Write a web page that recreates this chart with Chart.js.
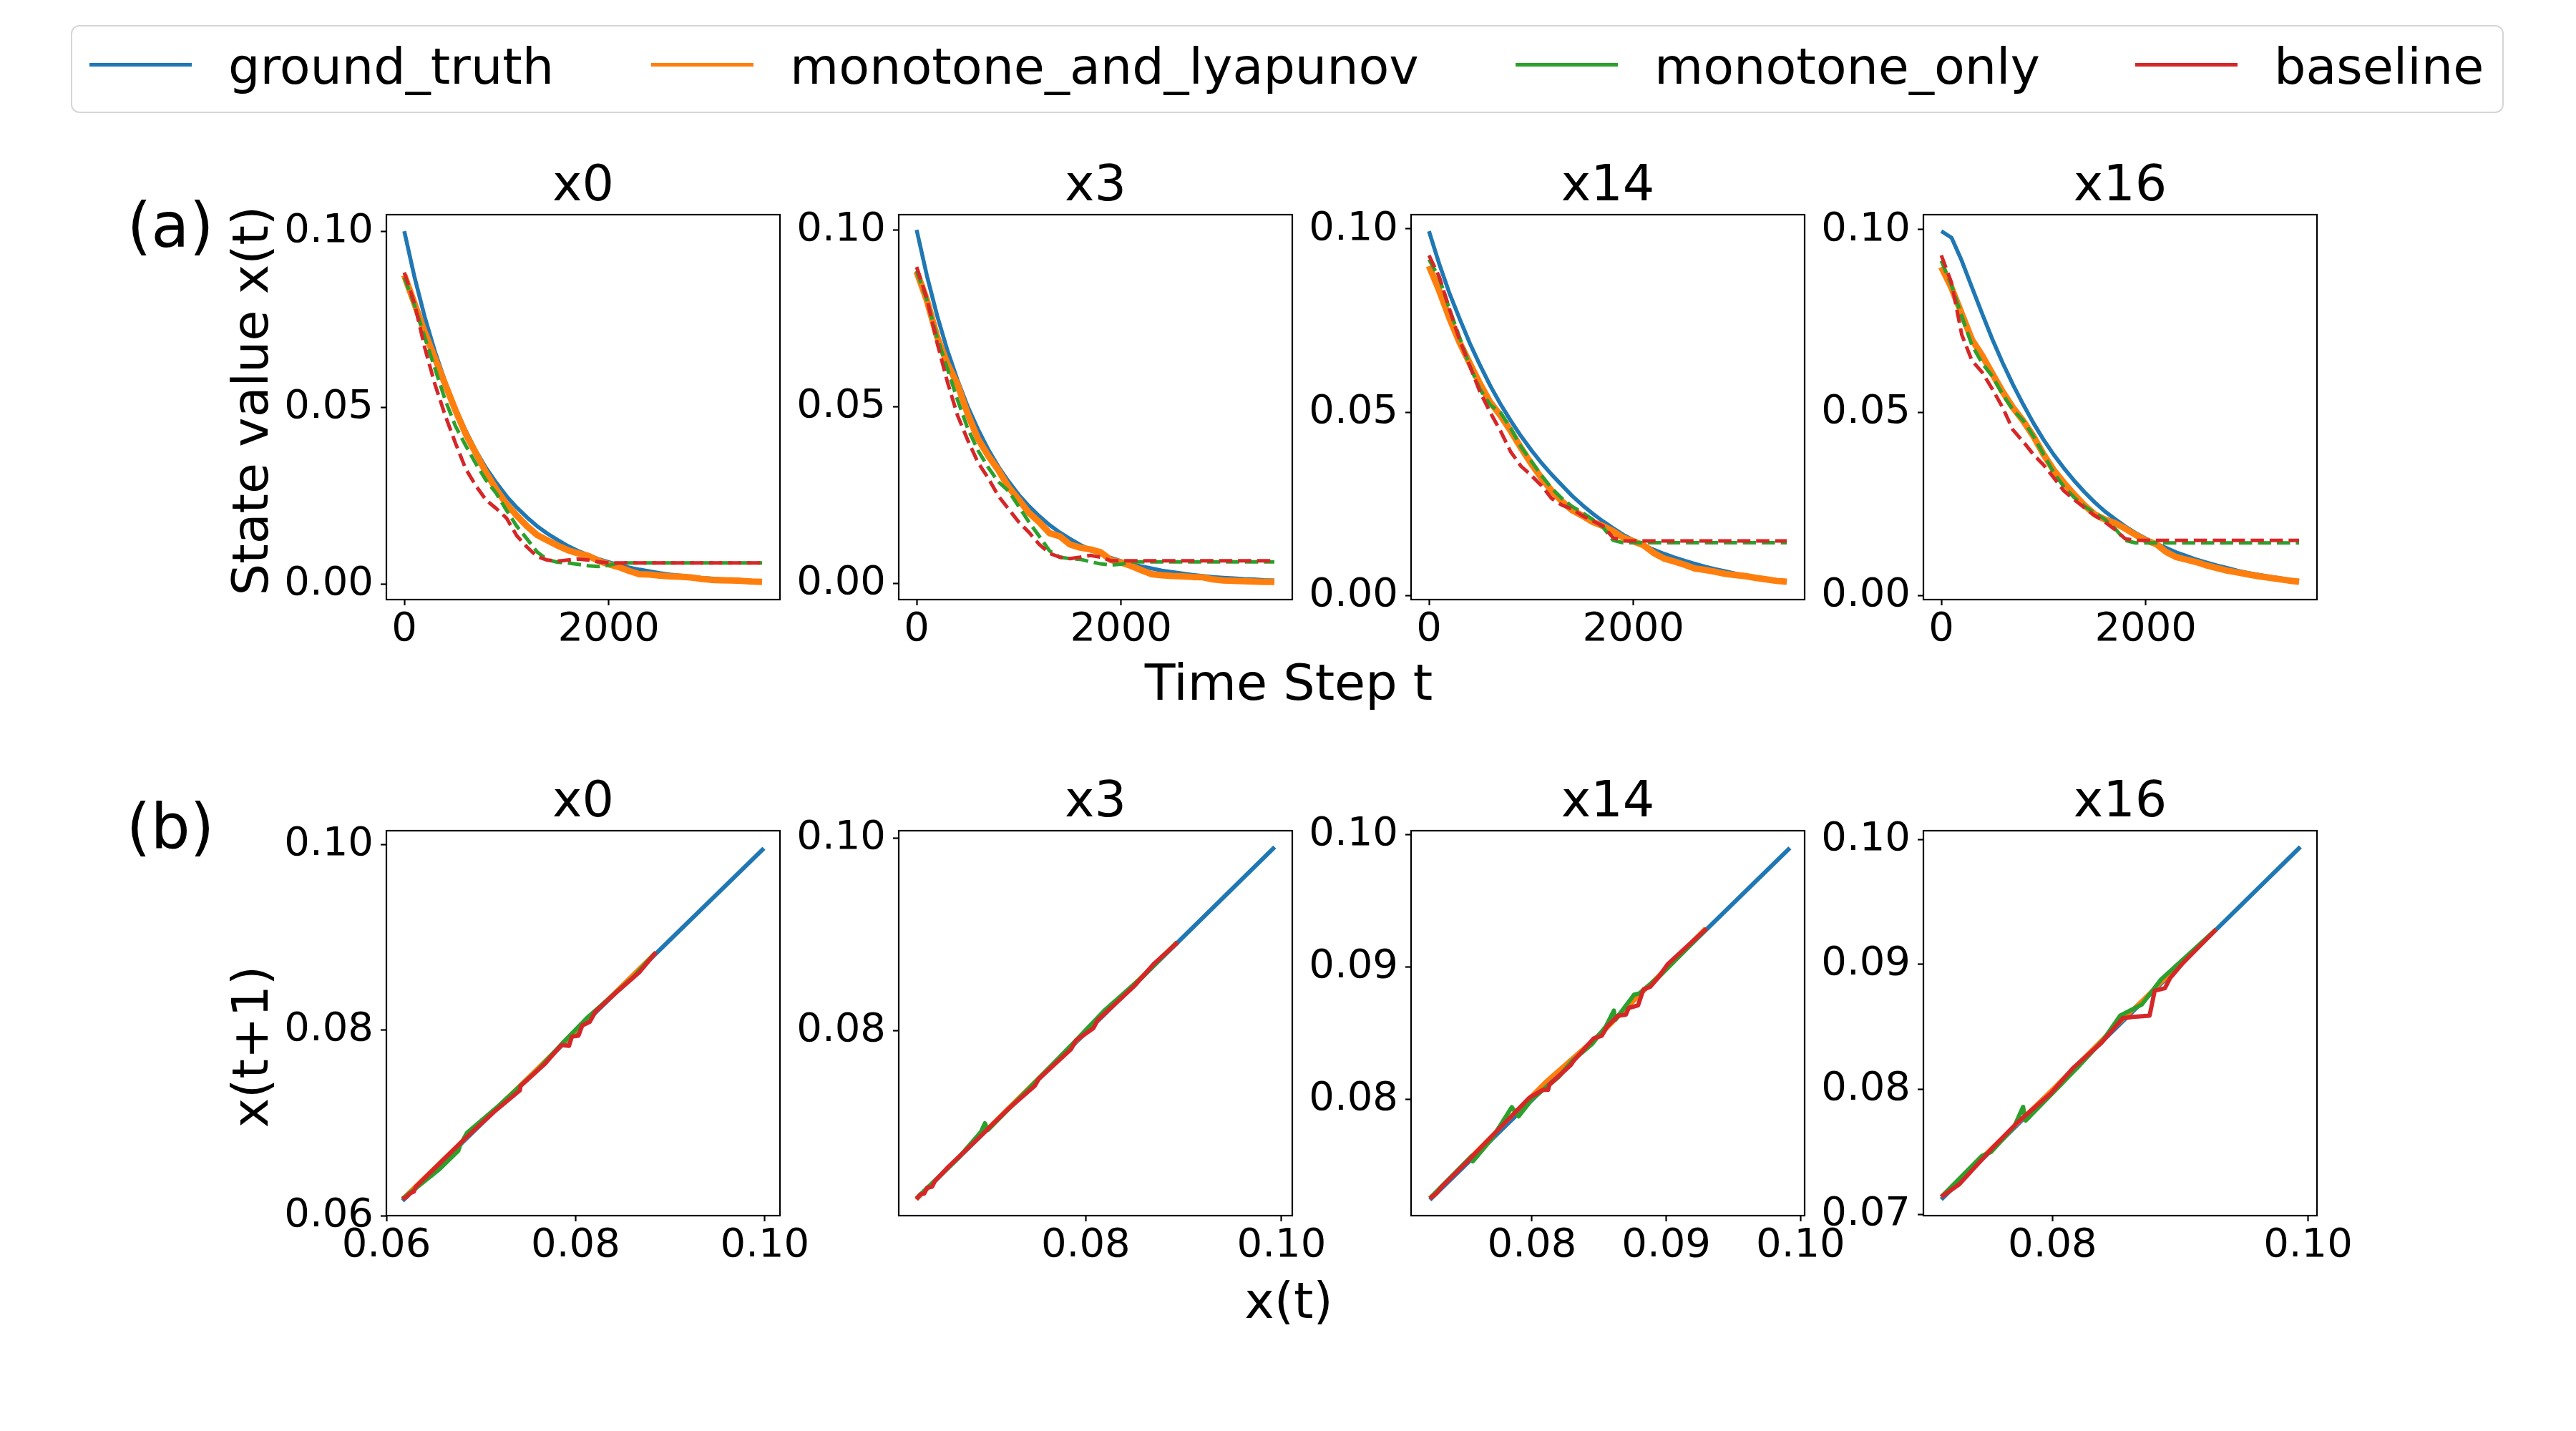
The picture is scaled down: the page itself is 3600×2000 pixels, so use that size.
<!DOCTYPE html>
<html>
<head>
<meta charset="utf-8">
<title>State trajectories and one-step maps</title>
<script src="https://cdn.jsdelivr.net/npm/chart.js@4.4.1/dist/chart.umd.min.js"></script>
<style>
  body { margin: 0; background: #fff; }
  #figure { position: relative; width: 3600px; height: 2000px; overflow: hidden;
            font-family: 'DejaVu Sans', sans-serif; color: #000; }
  #figure canvas { position: absolute; }
  .label { position: absolute; white-space: nowrap; line-height: 1; transform: translate(-50%, -50%); }
  .label.rotated { transform: translate(-50%, -50%) rotate(-90deg); }
  #legendBox { position: absolute; left: 99px; top: 35px; width: 3400px; height: 123px;
               box-sizing: border-box; border: 2.5px solid #d6d6d6; border-radius: 12px; }
  .handle { position: absolute; top: 88px; width: 143px; height: 5px; }
  .entry { position: absolute; top: 93px; font-size: 70px; line-height: 1; white-space: nowrap;
           transform: translateY(-50%); }
</style>
</head>
<body>
<div id="figure">
  <div id="legendBox"></div>
  <div class="label" style="left:238px; top:315px; font-size:87px">(a)</div>
  <div class="label" style="left:238px; top:1155px; font-size:87px">(b)</div>
  <div class="label rotated" style="left:350px; top:560px; font-size:70px">State value x(t)</div>
  <div class="label rotated" style="left:350px; top:1463px; font-size:70px">x(t+1)</div>
  <div class="label" style="left:1801px; top:954px; font-size:70px">Time Step t</div>
  <div class="label" style="left:1801px; top:1818px; font-size:70px">x(t)</div>
</div>
<script>
// series shared by every panel
const seriesNames = ['ground_truth', 'monotone_and_lyapunov', 'monotone_only', 'baseline'];
const seriesColors = ['#1f77b4', '#ff7f0e', '#2ca02c', '#d62728'];
const panelNames = ['x0', 'x3', 'x14', 'x16'];

// (a) state value over time, sampled every 100 steps
const timeSteps = [0, 100, 200, 300, 400, 500, 600, 700, 800, 900, 1000, 1100, 1200, 1300, 1400, 1500, 1600, 1700,
  1800, 1900, 2000, 2100, 2200, 2300, 2400, 2500, 2600, 2700, 2800, 2900, 3000, 3100, 3200, 3300, 3400, 3500];

const truthX0 = [0.1000, 0.0870, 0.0757, 0.0659, 0.0574, 0.0499, 0.0435, 0.0378, 0.0329, 0.0287, 0.0249, 0.0217,
  0.0189, 0.0164, 0.0143, 0.0125, 0.0108, 0.0094, 0.0082, 0.0071, 0.0062, 0.0054, 0.0047, 0.0041, 0.0036, 0.0031,
  0.0027, 0.0024, 0.0021, 0.0018, 0.0016, 0.0014, 0.0012, 0.0010, 0.0009, 0.0008];
const lyapX0 = [0.0875, 0.0795, 0.0714, 0.0640, 0.0566, 0.0493, 0.0426, 0.0371, 0.0316, 0.0268, 0.0227, 0.0194,
  0.0164, 0.0139, 0.0124, 0.0109, 0.0096, 0.0087, 0.0080, 0.0066, 0.0056, 0.0048, 0.0037, 0.0028, 0.0027, 0.0024,
  0.0022, 0.0021, 0.0019, 0.0015, 0.0012, 0.0011, 0.0010, 0.0009, 0.0007, 0.0006];
const monoX0 = [0.0869, 0.0791, 0.0699, 0.0611, 0.0522, 0.0448, 0.0393, 0.0341, 0.0294, 0.0257, 0.0209, 0.0164,
  0.0128, 0.0091, 0.0069, 0.0062, 0.0060, 0.0056, 0.0052, 0.0050, 0.0053, 0.0060, 0.0060, 0.0060, 0.0060, 0.0060,
  0.0060, 0.0060, 0.0060, 0.0060, 0.0060, 0.0060, 0.0060, 0.0060, 0.0060, 0.0060];
const baseX0 = [0.0883, 0.0795, 0.0670, 0.0566, 0.0478, 0.0400, 0.0327, 0.0279, 0.0238, 0.0214, 0.0187, 0.0137,
  0.0105, 0.0078, 0.0068, 0.0065, 0.0068, 0.0071, 0.0068, 0.0063, 0.0060, 0.0060, 0.0060, 0.0060, 0.0060, 0.0060,
  0.0060, 0.0060, 0.0060, 0.0060, 0.0060, 0.0060, 0.0060, 0.0060, 0.0060, 0.0060];

const truthX3 = [0.1000, 0.0871, 0.0758, 0.0660, 0.0575, 0.0500, 0.0436, 0.0379, 0.0330, 0.0288, 0.0250, 0.0218,
  0.0190, 0.0165, 0.0144, 0.0126, 0.0109, 0.0095, 0.0083, 0.0072, 0.0063, 0.0055, 0.0048, 0.0042, 0.0036, 0.0032,
  0.0028, 0.0024, 0.0021, 0.0018, 0.0016, 0.0014, 0.0012, 0.0011, 0.0009, 0.0008];
const lyapX3 = [0.0882, 0.0801, 0.0698, 0.0622, 0.0563, 0.0479, 0.0409, 0.0361, 0.0320, 0.0272, 0.0236, 0.0199,
  0.0173, 0.0142, 0.0133, 0.0110, 0.0101, 0.0096, 0.0088, 0.0066, 0.0059, 0.0049, 0.0037, 0.0026, 0.0023, 0.0021,
  0.0020, 0.0018, 0.0017, 0.0011, 0.0008, 0.0007, 0.0006, 0.0005, 0.0004, 0.0004];
const monoX3 = [0.0884, 0.0803, 0.0696, 0.0608, 0.0519, 0.0438, 0.0376, 0.0328, 0.0287, 0.0261, 0.0217, 0.0173,
  0.0133, 0.0092, 0.0074, 0.0070, 0.0068, 0.0061, 0.0055, 0.0052, 0.0054, 0.0061, 0.0061, 0.0061, 0.0061, 0.0061,
  0.0061, 0.0061, 0.0061, 0.0061, 0.0061, 0.0061, 0.0061, 0.0061, 0.0061, 0.0061];
const baseX3 = [0.0895, 0.0806, 0.0681, 0.0571, 0.0475, 0.0405, 0.0342, 0.0298, 0.0247, 0.0210, 0.0173, 0.0144,
  0.0110, 0.0085, 0.0074, 0.0070, 0.0074, 0.0079, 0.0074, 0.0064, 0.0064, 0.0064, 0.0064, 0.0064, 0.0064, 0.0064,
  0.0064, 0.0064, 0.0064, 0.0064, 0.0064, 0.0064, 0.0064, 0.0064, 0.0064, 0.0064];

const truthX14 = [0.0994, 0.0905, 0.0825, 0.0755, 0.0688, 0.0628, 0.0572, 0.0522, 0.0477, 0.0435, 0.0397, 0.0362,
  0.0330, 0.0301, 0.0272, 0.0247, 0.0224, 0.0203, 0.0184, 0.0166, 0.0151, 0.0137, 0.0125, 0.0114, 0.0104, 0.0095,
  0.0087, 0.0079, 0.0072, 0.0066, 0.0060, 0.0055, 0.0050, 0.0046, 0.0042, 0.0038];
const lyapX14 = [0.0899, 0.0832, 0.0757, 0.0690, 0.0633, 0.0577, 0.0527, 0.0491, 0.0449, 0.0403, 0.0360, 0.0321,
  0.0286, 0.0257, 0.0233, 0.0218, 0.0201, 0.0190, 0.0176, 0.0158, 0.0148, 0.0137, 0.0116, 0.0101, 0.0093, 0.0084,
  0.0074, 0.0070, 0.0065, 0.0059, 0.0056, 0.0053, 0.0048, 0.0044, 0.0040, 0.0038];
const monoX14 = [0.0917, 0.0867, 0.0782, 0.0704, 0.0626, 0.0562, 0.0520, 0.0499, 0.0456, 0.0406, 0.0367, 0.0328,
  0.0293, 0.0265, 0.0243, 0.0226, 0.0208, 0.0187, 0.0151, 0.0144, 0.0144, 0.0144, 0.0144, 0.0144, 0.0144, 0.0144,
  0.0144, 0.0144, 0.0144, 0.0144, 0.0144, 0.0144, 0.0144, 0.0144, 0.0144, 0.0144];
const baseX14 = [0.0928, 0.0870, 0.0782, 0.0697, 0.0626, 0.0555, 0.0499, 0.0449, 0.0392, 0.0353, 0.0328, 0.0300,
  0.0265, 0.0247, 0.0236, 0.0218, 0.0204, 0.0190, 0.0158, 0.0149, 0.0149, 0.0149, 0.0149, 0.0149, 0.0149, 0.0149,
  0.0149, 0.0149, 0.0149, 0.0149, 0.0149, 0.0149, 0.0149, 0.0149, 0.0149, 0.0149];

const truthX16 = [0.0996, 0.0978, 0.0915, 0.0842, 0.0770, 0.0700, 0.0636, 0.0577, 0.0523, 0.0472, 0.0426, 0.0385,
  0.0348, 0.0314, 0.0283, 0.0255, 0.0230, 0.0209, 0.0189, 0.0171, 0.0156, 0.0142, 0.0130, 0.0118, 0.0108, 0.0098,
  0.0090, 0.0082, 0.0075, 0.0068, 0.0062, 0.0057, 0.0052, 0.0048, 0.0044, 0.0040];
const lyapX16 = [0.0898, 0.0841, 0.0770, 0.0699, 0.0656, 0.0606, 0.0557, 0.0514, 0.0478, 0.0436, 0.0386, 0.0343,
  0.0308, 0.0276, 0.0247, 0.0222, 0.0208, 0.0198, 0.0183, 0.0166, 0.0151, 0.0141, 0.0119, 0.0105, 0.0098, 0.0091,
  0.0082, 0.0075, 0.0068, 0.0063, 0.0058, 0.0053, 0.0049, 0.0045, 0.0041, 0.0038];
const monoX16 = [0.0915, 0.0848, 0.0763, 0.0684, 0.0635, 0.0599, 0.0550, 0.0508, 0.0479, 0.0436, 0.0386, 0.0336,
  0.0297, 0.0268, 0.0244, 0.0226, 0.0208, 0.0183, 0.0151, 0.0144, 0.0144, 0.0144, 0.0144, 0.0144, 0.0144, 0.0144,
  0.0144, 0.0144, 0.0144, 0.0144, 0.0144, 0.0144, 0.0144, 0.0144, 0.0144, 0.0144];
const baseX16 = [0.0930, 0.0855, 0.0713, 0.0642, 0.0610, 0.0564, 0.0514, 0.0453, 0.0421, 0.0386, 0.0357, 0.0322,
  0.0286, 0.0262, 0.0240, 0.0219, 0.0201, 0.0180, 0.0155, 0.0151, 0.0151, 0.0151, 0.0151, 0.0151, 0.0151, 0.0151,
  0.0151, 0.0151, 0.0151, 0.0151, 0.0151, 0.0151, 0.0151, 0.0151, 0.0151, 0.0151];

// (b) one-step map, [x(t), x(t+1)] pairs
const phaseTruthX0 = [[0.0617, 0.0616], [0.0999, 0.0996]];
const phaseLyapX0 = [[0.0617, 0.0618], [0.0750, 0.0749], [0.0884, 0.0883]];
const phaseMonoX0 = [[0.0617, 0.0618], [0.0656, 0.0650], [0.0676, 0.0670], [0.0678, 0.0676], [0.0685, 0.0689],
  [0.0716, 0.0716], [0.0760, 0.0757], [0.0788, 0.0788], [0.0812, 0.0813], [0.0862, 0.0858], [0.0884, 0.0883]];
const phaseBaseX0 = [[0.0617, 0.0618], [0.0621, 0.0620], [0.0625, 0.0624], [0.0629, 0.0626], [0.0631, 0.0631],
  [0.0659, 0.0659], [0.0683, 0.0683], [0.0714, 0.0712], [0.0741, 0.0735], [0.0742, 0.0740], [0.0768, 0.0764],
  [0.0773, 0.0770], [0.0785, 0.0784], [0.0793, 0.0783], [0.0796, 0.0793], [0.0803, 0.0794], [0.0807, 0.0805],
  [0.0815, 0.0809], [0.0821, 0.0820], [0.0840, 0.0838], [0.0867, 0.0862], [0.0885, 0.0884]];

const phaseTruthX3 = [[0.0627, 0.0625], [0.0993, 0.0991]];
const phaseLyapX3 = [[0.0627, 0.0625], [0.0760, 0.0759], [0.0893, 0.0892]];
const phaseMonoX3 = [[0.0627, 0.0626], [0.0670, 0.0668], [0.0693, 0.0695], [0.0697, 0.0704], [0.0700, 0.0697],
  [0.0740, 0.0738], [0.0790, 0.0790], [0.0820, 0.0822], [0.0860, 0.0858], [0.0893, 0.0892]];
const phaseBaseX3 = [[0.0627, 0.0625], [0.0631, 0.0630], [0.0635, 0.0631], [0.0638, 0.0637], [0.0643, 0.0638],
  [0.0646, 0.0644], [0.0660, 0.0659], [0.0690, 0.0688], [0.0720, 0.0718], [0.0748, 0.0743], [0.0752, 0.0750],
  [0.0785, 0.0781], [0.0790, 0.0790], [0.0808, 0.0803], [0.0812, 0.0811], [0.0830, 0.0828], [0.0850, 0.0847],
  [0.0870, 0.0870], [0.0894, 0.0892]];

const phaseTruthX14 = [[0.0724, 0.0724], [0.0992, 0.0990]];
const phaseLyapX14 = [[0.0724, 0.0725], [0.0810, 0.0813], [0.0855, 0.0853], [0.0929, 0.0929]];
const phaseMonoX14 = [[0.0724, 0.0725], [0.0755, 0.0757], [0.0756, 0.0753], [0.0770, 0.0770], [0.0785, 0.0794],
  [0.0790, 0.0787], [0.0800, 0.0800], [0.0820, 0.0817], [0.0830, 0.0829], [0.0845, 0.0842], [0.0855, 0.0855],
  [0.0861, 0.0867], [0.0862, 0.0860], [0.0876, 0.0879], [0.0880, 0.0880], [0.0895, 0.0893], [0.0930, 0.0929]];
const phaseBaseX14 = [[0.0724, 0.0725], [0.0729, 0.0729], [0.0733, 0.0734], [0.0752, 0.0753], [0.0773, 0.0775],
  [0.0798, 0.0801], [0.0808, 0.0807], [0.0812, 0.0807], [0.0813, 0.0811], [0.0829, 0.0826], [0.0831, 0.0829],
  [0.0846, 0.0846], [0.0852, 0.0848], [0.0856, 0.0855], [0.0864, 0.0863], [0.0870, 0.0864], [0.0872, 0.0869],
  [0.0879, 0.0871], [0.0883, 0.0883], [0.0888, 0.0885], [0.0894, 0.0892], [0.0901, 0.0902], [0.0930, 0.0929]];

const phaseTruthX16 = [[0.0713, 0.0712], [0.0994, 0.0994]];
const phaseLyapX16 = [[0.0713, 0.0714], [0.0800, 0.0800], [0.0850, 0.0851], [0.0928, 0.0928]];
const phaseMonoX16 = [[0.0713, 0.0714], [0.0745, 0.0747], [0.0752, 0.0750], [0.0770, 0.0770], [0.0777, 0.0786],
  [0.0779, 0.0775], [0.0800, 0.0797], [0.0820, 0.0818], [0.0840, 0.0840], [0.0853, 0.0859], [0.0870, 0.0868],
  [0.0885, 0.0888], [0.0928, 0.0928]];
const phaseBaseX16 = [[0.0713, 0.0714], [0.0727, 0.0724], [0.0752, 0.0752], [0.0772, 0.0773], [0.0799, 0.0797],
  [0.0816, 0.0817], [0.0838, 0.0837], [0.0855, 0.0857], [0.0863, 0.0858], [0.0876, 0.0859], [0.0880, 0.0879],
  [0.0888, 0.0881], [0.0892, 0.0889], [0.0902, 0.0901], [0.0928, 0.0928]];

// tick labels
const timeTicks = [0, 2000];
const stateTicks = [0, 0.05, 0.10];
const phaseXTicks = [[0.06, 0.08, 0.10], [0.08, 0.10], [0.08, 0.09, 0.10], [0.08, 0.10]];
const phaseYTicks = [[0.06, 0.08, 0.10], [0.08, 0.10], [0.08, 0.09, 0.10], [0.07, 0.08, 0.09, 0.10]];

// axis limits as drawn in the figure
const timeRange = [-175, 3675];
const stateRanges = [[-0.0044, 0.1047], [-0.0046, 0.1043], [-0.0011, 0.1039], [-0.0011, 0.1041]];
const phaseXRanges = [[0.0600, 0.1016], [0.0609, 0.1011], [0.0710, 0.1003], [0.0699, 0.1007]];
const phaseYRanges = [[0.0600, 0.1015], [0.0608, 0.1008], [0.0712, 0.1003], [0.0699, 0.1007]];

const trajectories = [
  [truthX0, lyapX0, monoX0, baseX0],
  [truthX3, lyapX3, monoX3, baseX3],
  [truthX14, lyapX14, monoX14, baseX14],
  [truthX16, lyapX16, monoX16, baseX16]
];
const phaseMaps = [
  [phaseTruthX0, phaseLyapX0, phaseMonoX0, phaseBaseX0],
  [phaseTruthX3, phaseLyapX3, phaseMonoX3, phaseBaseX3],
  [phaseTruthX14, phaseLyapX14, phaseMonoX14, phaseBaseX14],
  [phaseTruthX16, phaseLyapX16, phaseMonoX16, phaseBaseX16]
];

// layout (px)
const plotLefts = [540, 1256, 1972, 2688];
const rowTops = [300, 1161];
const PLOT_W = 550, PLOT_H = 538;
const Y_AXIS_W = 200, X_AXIS_H = 110, TITLE_H = 76, PAD_RIGHT = 80;
const legendX = [125, 910, 2118, 2984];

Chart.defaults.font.family = "'DejaVu Sans'";
Chart.defaults.color = '#000';

const figure = document.getElementById('figure');

// legend across the top
seriesNames.forEach((name, i) => {
    const handle = document.createElement('div');
    handle.className = 'handle';
    handle.style.left = legendX[i] + 'px';
    handle.style.background = seriesColors[i];
    figure.appendChild(handle);

    const text = document.createElement('div');
    text.className = 'entry';
    text.style.left = (legendX[i] + 194) + 'px';
    text.textContent = name;
    figure.appendChild(text);
});

// full box around the plot area, drawn over the lines like matplotlib spines
const framePlugin = {
    id: 'frame',
    afterDatasetsDraw(chart) {
        const { ctx, chartArea: a } = chart;
        ctx.save();
        ctx.strokeStyle = '#000';
        ctx.lineWidth = 2.2;
        ctx.strokeRect(a.left, a.top, a.right - a.left, a.bottom - a.top);
        ctx.restore();
    }
};

function makeAxis(range, tickValues, format, padding, isX) {
    return {
        type: 'linear',
        min: range[0],
        max: range[1],
        afterBuildTicks: scale => { scale.ticks = tickValues.map(v => ({ value: v })); },
        afterFit: scale => {
            if (isX) scale.height = X_AXIS_H;
            else scale.width = Y_AXIS_W;
        },
        ticks: {
            autoSkip: false,
            maxRotation: 0,
            minRotation: 0,
            padding: padding,
            color: '#000',
            font: { size: 56 },
            callback: format
        },
        grid: { drawOnChartArea: false, drawTicks: true, tickLength: 8, tickWidth: 2.2, tickColor: '#000' },
        border: { display: false }
    };
}

function makePanel(title, left, top, datasets, xAxis, yAxis) {
    const canvas = document.createElement('canvas');
    canvas.width = Y_AXIS_W + PLOT_W + PAD_RIGHT;
    canvas.height = TITLE_H + PLOT_H + X_AXIS_H;
    canvas.style.left = (left - Y_AXIS_W) + 'px';
    canvas.style.top = (top - TITLE_H) + 'px';
    figure.appendChild(canvas);

    new Chart(canvas, {
        type: 'line',
        data: { datasets: datasets },
        options: {
            responsive: false,
            animation: false,
            events: [],
            layout: { padding: { top: 0, right: PAD_RIGHT, bottom: 0, left: 0 } },
            plugins: {
                legend: { display: false },
                tooltip: { enabled: false },
                title: {
                    display: true,
                    text: title,
                    fullSize: false,
                    padding: 0,
                    color: '#000',
                    font: { size: 70, weight: 'normal', lineHeight: TITLE_H + 'px' }
                }
            },
            scales: { x: xAxis, y: yAxis }
        },
        plugins: [framePlugin]
    });
}

const twoDecimals = v => v.toFixed(2);
const plainNumber = v => String(v);

// top row: dashed lines for the two plateauing models
const lineWidthsTop = [5.5, 9, 5, 5];
const dashesTop = [[], [], [18.5, 8], [18.5, 8]];

panelNames.forEach((name, p) => {
    const datasets = trajectories[p].map((values, i) => ({
        label: seriesNames[i],
        data: timeSteps.map((t, k) => ({ x: t, y: values[k] })),
        borderColor: seriesColors[i],
        borderWidth: lineWidthsTop[i],
        borderDash: dashesTop[i],
        borderJoinStyle: 'round',
        pointRadius: 0,
        tension: 0,
        fill: false,
        order: 4 - i
    }));
    makePanel(name, plotLefts[p], rowTops[0], datasets,
        makeAxis(timeRange, timeTicks, plainNumber, 1, true),
        makeAxis(stateRanges[p], stateTicks, twoDecimals, 10, false));
});

// bottom row: x(t+1) against x(t)
panelNames.forEach((name, p) => {
    const datasets = phaseMaps[p].map((pairs, i) => ({
        label: seriesNames[i],
        data: pairs.map(pt => ({ x: pt[0], y: pt[1] })),
        borderColor: seriesColors[i],
        borderWidth: 6,
        borderJoinStyle: 'round',
        pointRadius: 0,
        tension: 0,
        fill: false,
        order: 4 - i
    }));
    makePanel(name, plotLefts[p], rowTops[1], datasets,
        makeAxis(phaseXRanges[p], phaseXTicks[p], twoDecimals, 1, true),
        makeAxis(phaseYRanges[p], phaseYTicks[p], twoDecimals, 10, false));
});
</script>
</body>
</html>
